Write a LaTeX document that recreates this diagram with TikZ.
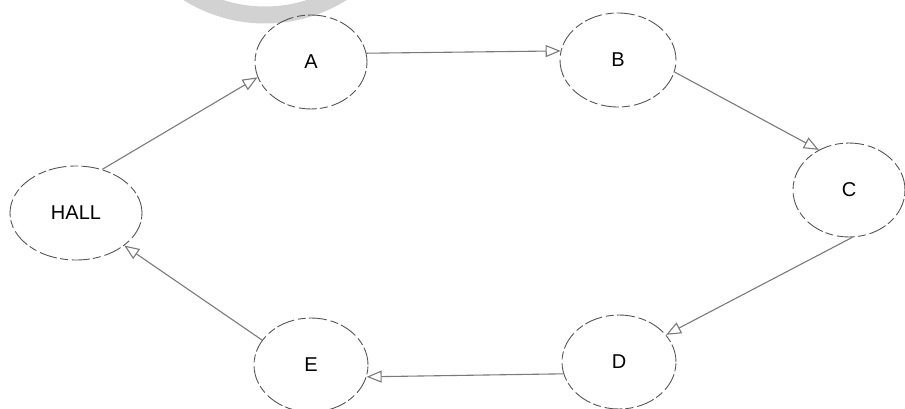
\documentclass[tikz,border=0pt]{standalone}
\usepackage{fontspec}
\setmainfont{Liberation Sans}
\usetikzlibrary{shapes.geometric,arrows.meta}
\definecolor{edgegray}{HTML}{7A7A7A}
\definecolor{rimgray}{HTML}{555555}
\definecolor{markgray}{HTML}{D2D2D2}
\tikzset{
  room/.style={ellipse, draw=rimgray, line width=0.9pt,
    dash pattern=on 18pt off 3pt on 8pt off 4pt,
    minimum width=112pt, minimum height=94pt, inner sep=0pt,
    font=\fontsize{20}{24}\selectfont},
  link/.style={draw=edgegray, line width=1.1pt,
    -{Triangle[open, length=15pt, width=12pt, line width=1.1pt]}}
}
\begin{document}
\begin{tikzpicture}[x=1pt,y=-1pt]
\useasboundingbox (0,0) rectangle (905,409);
\begin{scope}
\clip (0,0) rectangle (905,409);
\draw[markgray, line width=17pt] (265,-130) circle (145);
\end{scope}
\node[room, minimum width=132pt] (H) at (76,213) {HALL};
\node[room] (A) at (311,62) {A};
\node[room, minimum width=116pt] (B) at (618,60) {B};
\node[room] (C) at (849,190) {C};
\node[room, minimum width=114pt] (D) at (619,362) {D};
\node[room, minimum width=114pt] (E) at (311,365) {E};
\draw[link] (H.59) -- (A.196);
\draw[link] (A.9) -- (B.171);
\draw[link] (B.348) -- (C.127);
\draw[link] (C.274) -- (D.30);
\draw[link] (D.192) -- (E.348);
\draw[link] (E.153) -- (H.326);
\end{tikzpicture}
\end{document}
